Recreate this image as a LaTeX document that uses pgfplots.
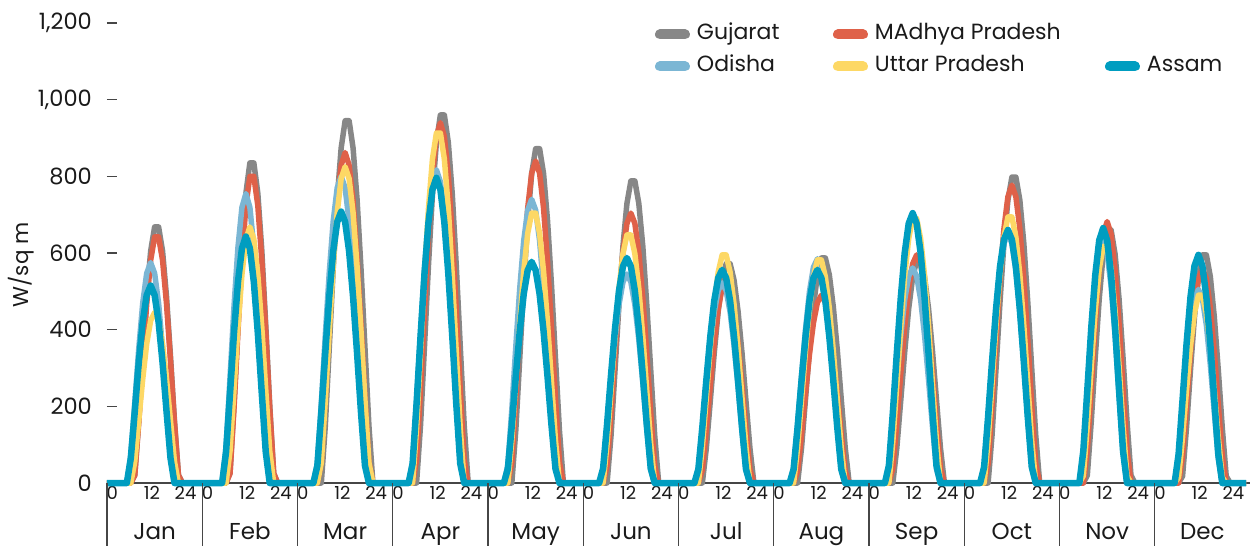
\documentclass[border=0pt]{standalone}
\usepackage{pgfplots}
\pgfplotsset{compat=1.18}
\usepackage{pgfplotstable}
\usepackage{fontspec}
\setmainfont{Poppins}
\definecolor{cG}{RGB}{135,135,135}
\definecolor{cM}{RGB}{223,97,73}
\definecolor{cO}{RGB}{123,182,212}
\definecolor{cU}{RGB}{253,216,101}
\definecolor{cA}{RGB}{0,157,192}
\definecolor{axgray}{RGB}{70,70,70}
\definecolor{txt}{RGB}{26,26,26}

% x = 24*month + hour ; columns: Gujarat, MAdhya Pradesh, Odisha, Uttar Pradesh, Assam (W/sq m)
\pgfplotstableread{
x G M O U A
0 0 0 0 0 0
4 0 0 0 0 0
5 0 0 0 0 0
6 0 0 72 0 65
7 21 20 209 56 187
8 163 157 350 162 314
9 331 318 469 271 420
10 486 467 547 363 490
11 605 581 575 424 515
12 668 642 547 445 490
13 668 642 469 424 420
14 605 581 350 363 314
15 486 467 209 271 187
16 331 318 72 162 65
17 163 157 0 56 0
18 21 20 0 0 0
19 0 0 0 0 0
28 0 0 0 0 0
29 0 0 0 0 0
30 0 0 95 0 81
31 26 25 275 84 234
32 204 195 460 243 392
33 413 396 615 407 524
34 608 582 719 544 612
35 756 724 755 636 643
36 835 800 719 668 612
37 835 800 615 636 524
38 756 724 460 544 392
39 608 582 275 407 234
40 413 396 95 243 81
41 204 195 0 84 0
42 26 25 0 0 0
43 0 0 0 0 0
52 0 0 0 0 0
53 0 0 51 0 45
54 0 55 208 53 184
55 148 224 384 215 340
56 352 414 549 396 486
57 559 591 683 566 605
58 741 736 770 705 681
59 874 829 800 794 708
60 945 862 770 825 681
61 945 829 683 794 605
62 874 736 549 705 486
63 741 591 384 566 340
64 559 414 208 396 184
65 352 224 51 215 45
66 148 55 0 53 0
67 0 0 0 0 0
76 0 0 0 0 0
77 0 0 52 0 51
78 0 60 212 143 207
79 151 244 392 341 382
80 358 451 560 540 546
81 568 645 698 716 680
82 753 803 786 845 766
83 888 904 817 913 796
84 960 940 786 913 766
85 960 904 698 845 680
86 888 803 560 716 546
87 753 645 392 540 382
88 568 451 212 341 207
89 358 244 52 143 51
90 151 60 0 0 0
91 0 0 0 0 0
100 0 0 0 0 0
101 0 0 47 0 37
102 0 54 192 111 150
103 137 218 355 263 277
104 325 403 508 417 396
105 516 576 632 552 493
106 684 717 712 651 555
107 807 808 740 704 577
108 872 840 712 704 555
109 872 808 632 651 493
110 807 717 508 552 396
111 684 576 355 417 277
112 516 403 192 263 150
113 325 218 47 111 37
114 137 54 0 0 0
115 0 0 0 0 0
124 0 0 0 0 0
125 0 0 35 0 38
126 0 45 142 102 153
127 124 183 262 241 282
128 294 338 374 383 403
129 466 483 465 507 501
130 618 601 524 598 565
131 729 677 545 647 587
132 788 704 524 647 565
133 788 677 465 598 501
134 729 601 374 507 403
135 618 483 262 383 282
136 466 338 142 241 153
137 294 183 35 102 38
138 124 45 0 0 0
139 0 0 0 0 0
148 0 0 0 0 0
149 0 0 33 0 36
150 0 34 136 93 145
151 90 138 251 222 267
152 213 254 358 352 381
153 339 364 446 466 475
154 448 453 502 550 535
155 529 510 522 595 556
156 572 530 502 595 535
157 572 510 446 550 475
158 529 453 358 466 381
159 448 364 251 352 267
160 339 254 136 222 145
161 213 138 33 93 36
162 90 34 0 0 0
163 0 0 0 0 0
172 0 0 0 0 0
173 0 0 37 0 36
174 0 31 152 91 145
175 92 127 281 217 267
176 219 235 401 345 381
177 348 336 500 456 475
178 460 418 563 538 535
179 543 471 585 582 556
180 587 490 563 582 535
181 587 471 500 538 475
182 543 418 401 456 381
183 460 336 281 345 267
184 348 235 152 217 145
185 219 127 37 91 36
186 92 31 0 0 0
187 0 0 0 0 0
196 0 0 0 0 0
197 0 0 36 0 45
198 0 38 146 108 183
199 91 155 269 257 338
200 216 286 385 408 483
201 343 408 479 541 601
202 455 508 540 638 677
203 537 572 561 690 704
204 580 595 540 690 677
205 580 572 479 638 601
206 537 508 385 541 483
207 455 408 269 408 338
208 343 286 146 257 183
209 216 155 36 108 45
210 91 38 0 0 0
211 0 0 0 0 0
220 0 0 0 0 0
221 0 0 42 0 42
222 0 50 169 109 172
223 125 202 312 259 317
224 298 373 446 411 453
225 472 533 555 544 564
226 626 664 625 642 635
227 738 747 650 694 660
228 798 777 625 694 635
229 798 747 555 642 564
230 738 664 446 544 453
231 626 533 312 411 317
232 472 373 169 259 172
233 298 202 42 109 42
234 125 50 0 0 0
235 0 0 0 0 0
244 0 0 0 0 0
245 0 0 0 0 0
246 0 0 79 19 84
247 20 86 229 151 242
248 161 248 384 305 405
249 327 415 513 449 542
250 480 556 600 558 633
251 597 649 630 617 665
252 660 682 600 617 633
253 660 649 513 558 542
254 597 556 384 449 405
255 480 415 229 305 242
256 327 248 79 151 84
257 161 86 0 19 0
258 20 0 0 0 0
259 0 0 0 0 0
268 0 0 0 0 0
269 0 0 0 0 0
270 0 0 64 15 75
271 18 71 184 120 217
272 145 204 308 243 362
273 295 341 412 357 485
274 433 456 481 443 566
275 538 533 505 490 595
276 595 560 481 490 566
277 595 533 412 443 485
278 538 456 308 357 362
279 433 341 184 243 217
280 295 204 64 120 75
281 145 71 0 15 0
282 18 0 0 0 0
283 0 0 0 0 0
287 0 0 0 0 0
}\data

\begin{document}
\begin{tikzpicture}
\begin{axis}[
  at={(107pt,63pt)}, anchor=south west,
  scale only axis, width=1143pt, height=460pt,
  xmin=0, xmax=288, ymin=0, ymax=1200,
  clip=false,
  axis x line=bottom, axis y line=left,
  x axis line style={-, draw=axgray, line width=1.3pt},
  y axis line style={draw=none},
  xtick={1.3,11.3,19.8,25.3,35.3,43.8,49.3,59.3,67.8,73.3,83.3,91.8,97.3,107.3,115.8,121.3,131.3,139.8,145.3,155.3,163.8,169.3,179.3,187.8,193.3,203.3,211.8,217.3,227.3,235.8,241.3,251.3,259.8,265.3,275.3,283.8},
  xticklabels={0,12,24,0,12,24,0,12,24,0,12,24,0,12,24,0,12,24,0,12,24,0,12,24,0,12,24,0,12,24,0,12,24,0,12,24},
  xtick style={draw=none},
  xticklabel style={font=\fontsize{18}{20}\selectfont, text=txt, anchor=north, inner sep=0pt, yshift=-3.5pt},
  ytick={0,200,400,600,800,1000,1200},
  ytick style={draw=axgray, line width=1.2pt},
  major tick length=10pt, tick align=inside,
  yticklabel style={font=\fontsize{22.5}{25}\selectfont, text=txt, anchor=east, inner sep=0pt, xshift=-15pt},
  /pgf/number format/assume math mode=true,
  /pgf/number format/1000 sep={,},
  ylabel={W/sq m},
  ylabel style={font=\fontsize{21.5}{24}\selectfont, text=txt, at={(axis description cs:-0.075,0.474)}, anchor=center},
  legend columns=3,
  legend cell align=left,
  legend style={at={(rel axis cs:0.4794,1)}, anchor=north west, draw=none, fill=none, inner sep=0pt, outer sep=0pt,
     font=\fontsize{22}{26}\selectfont, text=txt, column sep=0pt, row sep=9pt,
     nodes={inner sep=0pt, text height=17pt, text depth=6pt}},
  legend image code/.code={\draw[#1, line cap=round, line width=10pt] (5pt,0pt) -- (30pt,0pt);},
  every axis plot/.append style={line join=round, line cap=butt},
]
\addplot[draw=cG, line width=5.5pt] table[x=x, y=G] {\data};
\addlegendentry{\hspace{7pt}\makebox[136pt][l]{Gujarat}}
\addplot[draw=cM, line width=5.5pt] table[x=x, y=M] {\data};
\addlegendentry{\hspace{7pt}\makebox[230pt][l]{MAdhya Pradesh}}
\addlegendimage{empty legend}
\addlegendentry{}
\addplot[draw=cO, line width=5.5pt] table[x=x, y=O] {\data};
\addlegendentry{\hspace{7pt}\makebox[136pt][l]{Odisha}}
\addplot[draw=cU, line width=5.5pt] table[x=x, y=U] {\data};
\addlegendentry{\hspace{7pt}\makebox[230pt][l]{Uttar Pradesh}}
\addplot[draw=cA, line width=6.5pt] table[x=x, y=A] {\data};
\addlegendentry{\hspace{7pt}Assam}

\draw[axgray, line width=1.3pt] (axis cs:0,0) -- ++(0pt,-63pt);
\draw[axgray, line width=1.3pt] (axis cs:24,0) -- ++(0pt,-63pt);
\draw[axgray, line width=1.3pt] (axis cs:48,0) -- ++(0pt,-63pt);
\draw[axgray, line width=1.3pt] (axis cs:72,0) -- ++(0pt,-63pt);
\draw[axgray, line width=1.3pt] (axis cs:96,0) -- ++(0pt,-63pt);
\draw[axgray, line width=1.3pt] (axis cs:120,0) -- ++(0pt,-63pt);
\draw[axgray, line width=1.3pt] (axis cs:144,0) -- ++(0pt,-63pt);
\draw[axgray, line width=1.3pt] (axis cs:168,0) -- ++(0pt,-63pt);
\draw[axgray, line width=1.3pt] (axis cs:192,0) -- ++(0pt,-63pt);
\draw[axgray, line width=1.3pt] (axis cs:216,0) -- ++(0pt,-63pt);
\draw[axgray, line width=1.3pt] (axis cs:240,0) -- ++(0pt,-63pt);
\draw[axgray, line width=1.3pt] (axis cs:264,0) -- ++(0pt,-63pt);

\node[font=\fontsize{23}{26}\selectfont, text=txt, anchor=base, yshift=-56pt] at (axis cs:12,0) {Jan};
\node[font=\fontsize{23}{26}\selectfont, text=txt, anchor=base, yshift=-56pt] at (axis cs:36,0) {Feb};
\node[font=\fontsize{23}{26}\selectfont, text=txt, anchor=base, yshift=-56pt] at (axis cs:60,0) {Mar};
\node[font=\fontsize{23}{26}\selectfont, text=txt, anchor=base, yshift=-56pt] at (axis cs:84,0) {Apr};
\node[font=\fontsize{23}{26}\selectfont, text=txt, anchor=base, yshift=-56pt] at (axis cs:108,0) {May};
\node[font=\fontsize{23}{26}\selectfont, text=txt, anchor=base, yshift=-56pt] at (axis cs:132,0) {Jun};
\node[font=\fontsize{23}{26}\selectfont, text=txt, anchor=base, yshift=-56pt] at (axis cs:156,0) {Jul};
\node[font=\fontsize{23}{26}\selectfont, text=txt, anchor=base, yshift=-56pt] at (axis cs:180,0) {Aug};
\node[font=\fontsize{23}{26}\selectfont, text=txt, anchor=base, yshift=-56pt] at (axis cs:204,0) {Sep};
\node[font=\fontsize{23}{26}\selectfont, text=txt, anchor=base, yshift=-56pt] at (axis cs:228,0) {Oct};
\node[font=\fontsize{23}{26}\selectfont, text=txt, anchor=base, yshift=-56pt] at (axis cs:252,0) {Nov};
\node[font=\fontsize{23}{26}\selectfont, text=txt, anchor=base, yshift=-56pt] at (axis cs:276,0) {Dec};
\end{axis}
\pgfresetboundingbox
\path[use as bounding box] (0pt,0pt) rectangle (1252pt,546pt);
\end{tikzpicture}
\end{document}
